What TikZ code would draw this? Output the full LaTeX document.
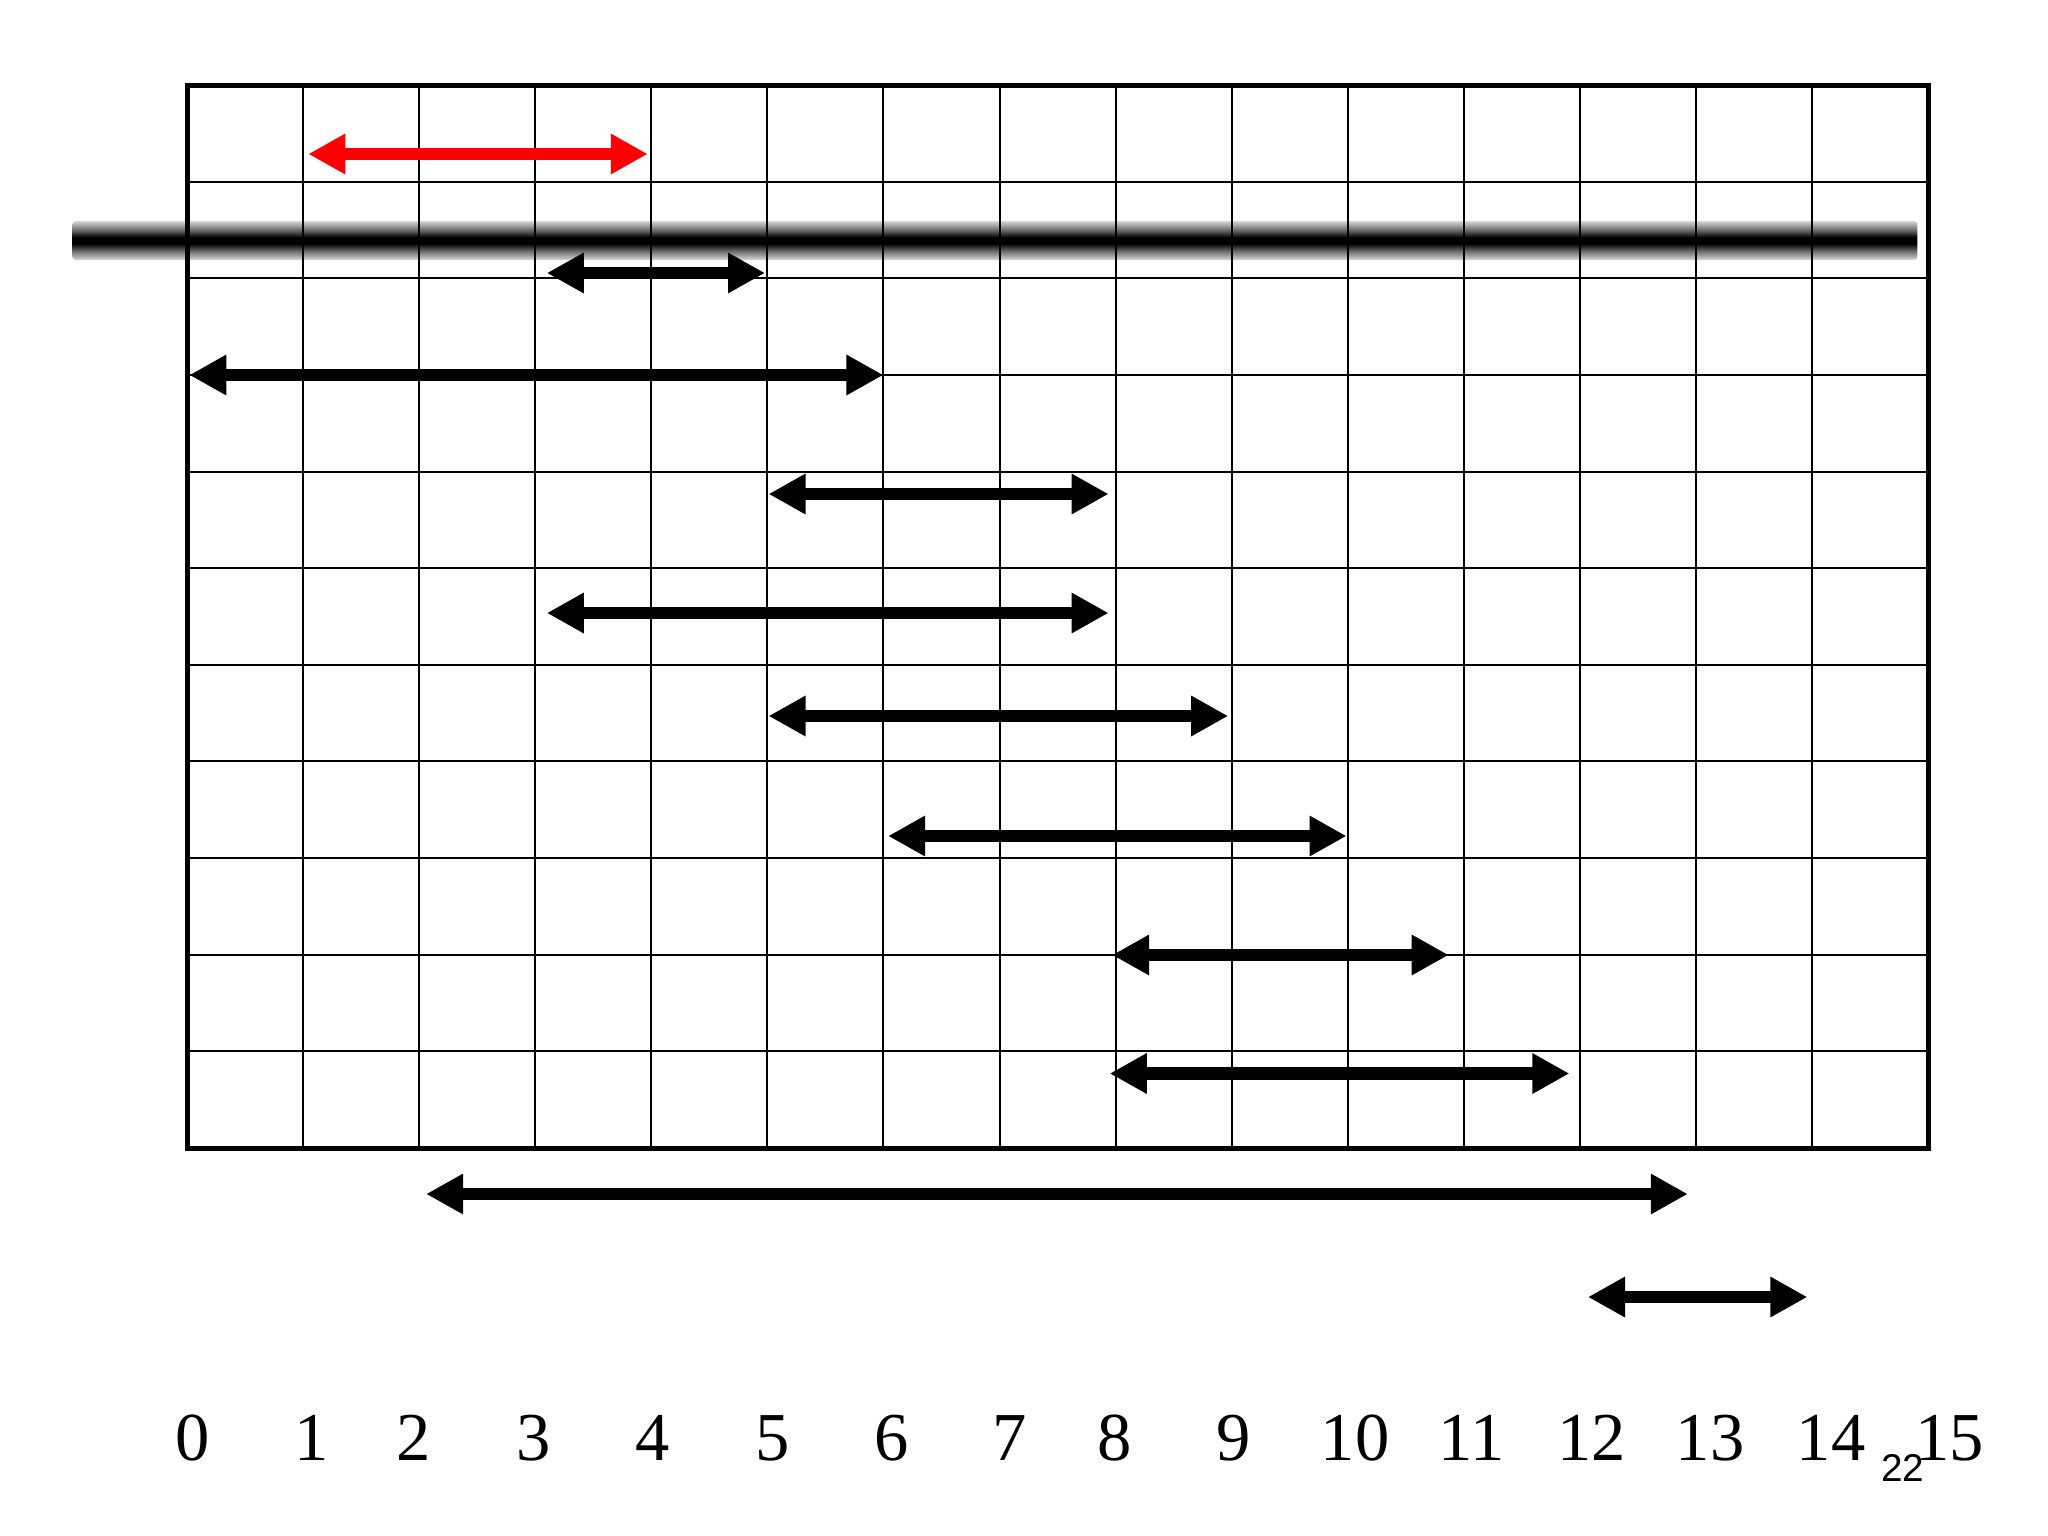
\documentclass[tikz,border=0pt]{standalone}
\usepackage{fontspec}
\setmainfont{Liberation Serif}
\newfontfamily\pnfont{Liberation Sans}
\usetikzlibrary{arrows.meta}
\pgfdeclareverticalshading{blurband}{100bp}{color(0bp)=(black!15); color(25bp)=(black!15); color(37bp)=(black!60); color(46bp)=(black); color(54bp)=(black); color(63bp)=(black!60); color(75bp)=(black!15); color(100bp)=(black!15)}
\begin{document}
\begin{tikzpicture}[x=0.01cm,y=-0.01cm,
  gridline/.style={line width=0.02cm, black},
  frame/.style={line width=0.05cm, black},
  span/.style={line width=0.125cm, {Triangle[length=0.37cm,width=0.38cm]}-{Triangle[length=0.37cm,width=0.38cm]}},
  tick/.style={font=\fontsize{19.5}{20}\selectfont, anchor=base, inner sep=0pt},
  pagenum/.style={font=\pnfont\fontsize{11}{12}\selectfont, anchor=base, inner sep=0pt}]
\useasboundingbox (0,0) rectangle (2048,1536);
% blurred strike line
\shade[shading=blurband, rounded corners=0.03cm] (72.7,221) rectangle (1917.3,260);
% grid
\foreach \i in {1,...,14} \draw[gridline] ({187+\i*116.07},85) -- ({187+\i*116.07},1148);
\foreach \j in {1,...,10} \draw[gridline] (187,{85+\j*96.64}) -- (1928,{85+\j*96.64});
\draw[frame] (187,85) rectangle (1928,1148);
% interval arrows
\foreach \a/\b/\y/\c [count=\n] in {
  1.045/3.97/154/red,
  3.10/4.98/273/black,
  0.02/6.00/375/black,
  5.01/7.94/494/black,
  3.10/7.94/613/black,
  5.01/8.97/716/black,
  6.04/9.99/836/black,
  7.97/10.87/955/black,
  7.95/11.91/1073.5/black,
  2.06/12.93/1194/black,
  12.07/13.96/1297/black} {
  \coordinate (s\n) at ({187+\a*116.07},\y);
  \coordinate (e\n) at ({187+\b*116.07},\y);
  \draw[span,\c] (s\n) -- (e\n);
}
% axis numbers
\foreach \t/\x in {0/192.6, 1/311.5, 2/413.7, 3/533.2, 4/652.3, 5/772.8, 6/892, 7/1009.6, 8/1114.8, 9/1233.3, 10/1355, 11/1471.3, 12/1591.5, 13/1710, 14/1831, 15/1949.3}
  \node[tick] (n\t) at (\x,1460.7) {\t};
\node[pagenum] (pg) at (1902.8,1481.7) {22};
\end{tikzpicture}
\end{document}
